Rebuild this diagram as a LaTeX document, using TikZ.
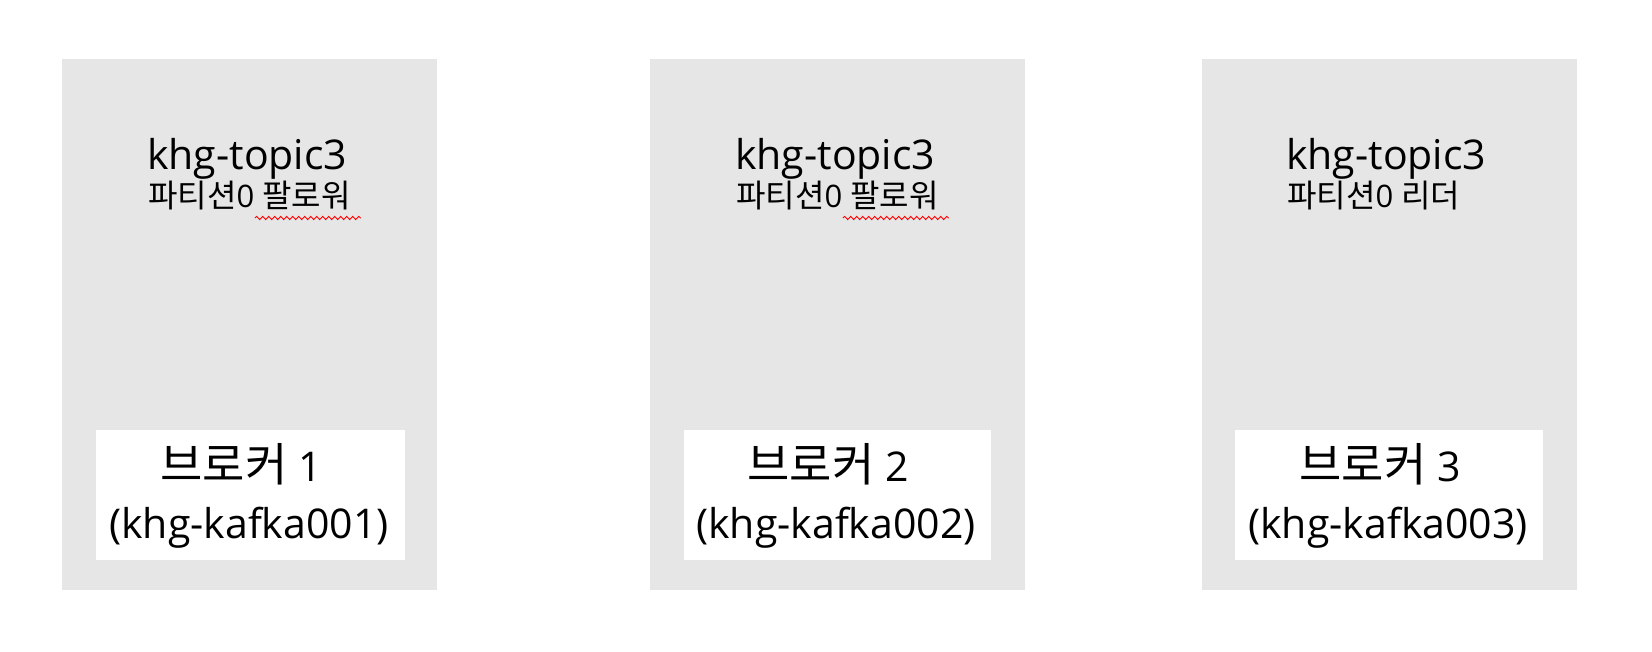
\documentclass[tikz,border=0pt]{standalone}
\usepackage{fontspec}
\setmainfont{Open Sans}
\newfontfamily\hgfont{Noto Sans CJK KR}
\usetikzlibrary{decorations.pathmorphing}
\definecolor{boxgray}{HTML}{E7E6E6}
\newcommand{\hgsub}[1]{{\hgfont\fontsize{32}{34}\selectfont #1}}
\newcommand{\hgbig}[1]{{\hgfont\fontsize{46}{50}\selectfont #1}}
\tikzset{
  brokerbox/.style={fill=boxgray, draw=none},
  hostbox/.style={fill=white, draw=none},
  titletext/.style={anchor=base west, inner sep=0pt, font=\fontsize{41}{44}\selectfont},
  subtext/.style={anchor=base west, inner sep=0pt, font=\fontsize{31}{34}\selectfont},
  brokertext/.style={anchor=base, inner sep=0pt, font=\fontsize{41}{44}\selectfont},
  hosttext/.style={anchor=base, inner sep=0pt, font=\fontsize{41}{44}\selectfont},
  spellmark/.style={draw=red, line width=0.9pt, decorate, decoration={snake, amplitude=1.6pt, segment length=6pt}}
}
\begin{document}
\begin{tikzpicture}[x=1pt, y=-1pt]
\useasboundingbox (0,0) rectangle (1652,652);
% broker 1
\path[brokerbox] (62,59) rectangle (437,590);
\path[hostbox] (96,430) rectangle (405,560);
\node[titletext] (t1) at (147,170) {khg-topic3};
\node[subtext] (s1) at (148,208) {\hgsub{파티션}0 \hgsub{팔로워}};
\node[brokertext] (b1) at (241,481) {\hgbig{브로커} 1};
\node[hosttext] (h1) at (249,538) {(khg-kafka001)};
\draw[spellmark] ([shift={(-96,10)}]s1.base east) -- ([shift={(10,10)}]s1.base east);
% broker 2
\path[brokerbox] (650,59) rectangle (1025,590);
\path[hostbox] (684,430) rectangle (991,560);
\node[titletext] (t2) at (735,170) {khg-topic3};
\node[subtext] (s2) at (736,208) {\hgsub{파티션}0 \hgsub{팔로워}};
\node[brokertext] (b2) at (828,481) {\hgbig{브로커} 2};
\node[hosttext] (h2) at (836,538) {(khg-kafka002)};
\draw[spellmark] ([shift={(-96,10)}]s2.base east) -- ([shift={(10,10)}]s2.base east);
% broker 3
\path[brokerbox] (1202,59) rectangle (1577,590);
\path[hostbox] (1235,430) rectangle (1543,560);
\node[titletext] (t3) at (1286,170) {khg-topic3};
\node[subtext] (s3) at (1287,208) {\hgsub{파티션}0 \hgsub{리더}};
\node[brokertext] (b3) at (1380,481) {\hgbig{브로커} 3};
\node[hosttext] (h3) at (1388,538) {(khg-kafka003)};
\end{tikzpicture}
\end{document}
